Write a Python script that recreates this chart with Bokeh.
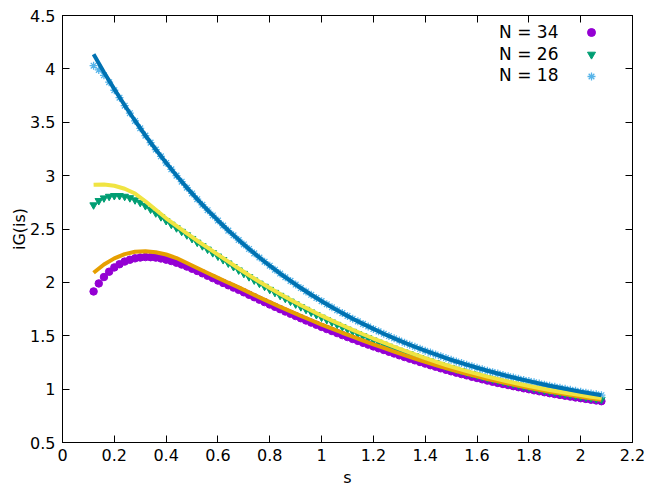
from bokeh.plotting import figure
from bokeh.models import (FixedTicker, LinearAxis, Legend, LegendItem, Label,
                          CustomJSTickFormatter)
from bokeh.embed import file_html
from bokeh.resources import INLINE

# ---------------- data ----------------
s_pts = [0.12, 0.14, 0.16, 0.18, 0.20, 0.22, 0.24, 0.26, 0.28, 0.30,
         0.32, 0.34, 0.36, 0.38, 0.40, 0.42, 0.44, 0.46, 0.48, 0.50,
         0.52, 0.54, 0.56, 0.58, 0.60, 0.62, 0.64, 0.66, 0.68, 0.70,
         0.72, 0.74, 0.76, 0.78, 0.80, 0.82, 0.84, 0.86, 0.88, 0.90,
         0.92, 0.94, 0.96, 0.98, 1.00, 1.02, 1.04, 1.06, 1.08, 1.10,
         1.12, 1.14, 1.16, 1.18, 1.20, 1.22, 1.24, 1.26, 1.28, 1.30,
         1.32, 1.34, 1.36, 1.38, 1.40, 1.42, 1.44, 1.46, 1.48, 1.50,
         1.52, 1.54, 1.56, 1.58, 1.60, 1.62, 1.64, 1.66, 1.68, 1.70,
         1.72, 1.74, 1.76, 1.78, 1.80, 1.82, 1.84, 1.86, 1.88, 1.90,
         1.92, 1.94, 1.96, 1.98, 2.00, 2.02, 2.04, 2.06, 2.08]

n34_pts = [1.915, 1.990, 2.050, 2.100, 2.140, 2.170, 2.195, 2.212, 2.225, 2.233,
           2.237, 2.236, 2.232, 2.224, 2.213, 2.200, 2.184, 2.167, 2.148, 2.128,
           2.107, 2.085, 2.062, 2.040, 2.017, 1.995, 1.973, 1.951, 1.930, 1.907,
           1.884, 1.861, 1.838, 1.815, 1.793, 1.771, 1.749, 1.727, 1.706, 1.685,
           1.664, 1.643, 1.623, 1.603, 1.583, 1.563, 1.544, 1.525, 1.506, 1.488,
           1.470, 1.452, 1.434, 1.417, 1.400, 1.383, 1.367, 1.350, 1.334, 1.317,
           1.301, 1.285, 1.270, 1.254, 1.239, 1.224, 1.210, 1.195, 1.181, 1.167,
           1.154, 1.141, 1.129, 1.116, 1.104, 1.092, 1.080, 1.069, 1.058, 1.048,
           1.038, 1.028, 1.018, 1.008, 0.999, 0.989, 0.980, 0.971, 0.962, 0.954,
           0.946, 0.938, 0.930, 0.922, 0.915, 0.908, 0.901, 0.894, 0.887]

n26_pts = [2.725, 2.765, 2.790, 2.805, 2.812, 2.812, 2.805, 2.792, 2.772, 2.748,
           2.718, 2.685, 2.650, 2.614, 2.578, 2.543, 2.510, 2.477, 2.444, 2.410,
           2.375, 2.342, 2.310, 2.277, 2.245, 2.212, 2.180, 2.147, 2.115, 2.083,
           2.052, 2.021, 1.991, 1.962, 1.933, 1.905, 1.877, 1.850, 1.823, 1.797,
           1.771, 1.746, 1.721, 1.697, 1.673, 1.650, 1.627, 1.605, 1.583, 1.561,
           1.540, 1.519, 1.499, 1.479, 1.459, 1.439, 1.420, 1.401, 1.382, 1.363,
           1.346, 1.329, 1.312, 1.295, 1.278, 1.262, 1.246, 1.230, 1.214, 1.199,
           1.185, 1.171, 1.157, 1.144, 1.131, 1.118, 1.105, 1.093, 1.082, 1.070,
           1.059, 1.048, 1.038, 1.028, 1.018, 1.008, 0.999, 0.989, 0.980, 0.972,
           0.964, 0.955, 0.947, 0.939, 0.932, 0.924, 0.917, 0.910, 0.904]

n18_pts = [4.030, 3.990, 3.940, 3.875, 3.800, 3.730, 3.655, 3.585, 3.512, 3.443,
           3.375, 3.309, 3.244, 3.181, 3.119, 3.059, 3.000, 2.943, 2.887, 2.833,
           2.779, 2.727, 2.676, 2.627, 2.579, 2.532, 2.485, 2.441, 2.397, 2.355,
           2.313, 2.272, 2.233, 2.194, 2.156, 2.119, 2.083, 2.048, 2.014, 1.980,
           1.947, 1.915, 1.884, 1.854, 1.824, 1.795, 1.767, 1.739, 1.712, 1.686,
           1.660, 1.635, 1.611, 1.587, 1.564, 1.541, 1.519, 1.497, 1.476, 1.455,
           1.435, 1.416, 1.397, 1.378, 1.360, 1.342, 1.325, 1.308, 1.291, 1.275,
           1.259, 1.244, 1.229, 1.214, 1.200, 1.186, 1.172, 1.159, 1.146, 1.133,
           1.121, 1.109, 1.097, 1.086, 1.075, 1.064, 1.053, 1.042, 1.032, 1.022,
           1.013, 1.003, 0.994, 0.985, 0.976, 0.967, 0.959, 0.951, 0.943]

s_fit = [0.12, 0.16, 0.20, 0.24, 0.28, 0.32, 0.36, 0.40, 0.44, 0.48,
         0.52, 0.56, 0.60, 0.64, 0.68, 0.72, 0.76, 0.80, 0.84, 0.88,
         0.92, 0.96, 1.00, 1.04, 1.08, 1.12, 1.16, 1.20, 1.24, 1.28,
         1.32, 1.36, 1.40, 1.44, 1.48, 1.52, 1.56, 1.60, 1.64, 1.68,
         1.72, 1.76, 1.80, 1.84, 1.88, 1.92, 1.96, 2.00, 2.04, 2.08]

fit34 = [2.090, 2.168, 2.225, 2.265, 2.287, 2.292, 2.282, 2.261, 2.228, 2.182,
         2.135, 2.088, 2.042, 1.997, 1.953, 1.906, 1.860, 1.815, 1.771, 1.728,
         1.686, 1.645, 1.605, 1.566, 1.528, 1.491, 1.455, 1.420, 1.386, 1.352,
         1.319, 1.287, 1.256, 1.226, 1.197, 1.170, 1.144, 1.119, 1.095, 1.073,
         1.052, 1.032, 1.013, 0.994, 0.976, 0.960, 0.944, 0.929, 0.915, 0.901]

fit26 = [2.914, 2.917, 2.905, 2.877, 2.832, 2.760, 2.680, 2.600, 2.530, 2.460,
         2.390, 2.325, 2.260, 2.195, 2.130, 2.067, 2.006, 1.948, 1.892, 1.838,
         1.786, 1.736, 1.688, 1.642, 1.598, 1.555, 1.514, 1.474, 1.435, 1.397,
         1.360, 1.325, 1.290, 1.258, 1.226, 1.197, 1.169, 1.143, 1.117, 1.094,
         1.071, 1.050, 1.030, 1.011, 0.992, 0.976, 0.959, 0.944, 0.929, 0.916]

fit18 = [4.136, 3.969, 3.810, 3.659, 3.514, 3.376, 3.245, 3.120, 3.001, 2.888,
         2.780, 2.677, 2.580, 2.486, 2.398, 2.313, 2.233, 2.156, 2.083, 2.014,
         1.947, 1.884, 1.824, 1.767, 1.712, 1.660, 1.611, 1.564, 1.519, 1.476,
         1.435, 1.397, 1.360, 1.325, 1.291, 1.259, 1.229, 1.200, 1.172, 1.146,
         1.121, 1.097, 1.075, 1.053, 1.032, 1.013, 0.994, 0.976, 0.959, 0.943]

series_names = ["N = 34", "N = 26", "N = 18"]

x_ticks = [0, 0.2, 0.4, 0.6, 0.8, 1.0, 1.2, 1.4, 1.6, 1.8, 2.0, 2.2]
x_tick_labels = ["0", "0.2", "0.4", "0.6", "0.8", "1", "1.2", "1.4", "1.6", "1.8", "2", "2.2"]
y_ticks = [0.5, 1.0, 1.5, 2.0, 2.5, 3.0, 3.5, 4.0, 4.5]
y_tick_labels = ["0.5", "1", "1.5", "2", "2.5", "3", "3.5", "4", "4.5"]

x_title = "s"
y_title = "iG(is)"

# ---------------- style ----------------
FONT = "DejaVu Sans"
FS = "16px"
C_PURPLE = "#9400d3"
C_GREEN = "#009e73"
C_LBLUE = "#56b4e9"
C_ORANGE = "#e69f00"
C_YELLOW = "#f0e442"
C_BLUE = "#0072b2"

FRAME_H = 427

p = figure(width=654, height=491, x_range=(0, 2.2), y_range=(0.5, 4.5),
           output_backend="svg", toolbar_location=None,
           min_border_left=62, min_border_right=22,
           min_border_top=15, min_border_bottom=49)
p.xgrid.visible = False
p.ygrid.visible = False
p.outline_line_color = "black"
p.outline_line_width = 1
p.outline_line_alpha = 1
p.background_fill_color = "white"
p.border_fill_color = "white"

fmt = CustomJSTickFormatter(code="return String(parseFloat(tick.toFixed(2)));")
blank_fmt = CustomJSTickFormatter(code="return '';")


def style_axis(ax, ticks, labels, show_labels=True):
    ax.ticker = FixedTicker(ticks=ticks)
    ax.major_tick_in = 7
    ax.major_tick_out = 0
    ax.minor_tick_in = 0
    ax.minor_tick_out = 0
    ax.axis_line_color = "black"
    ax.major_tick_line_color = "black"
    ax.major_label_text_font = FONT
    ax.major_label_text_color = "black"
    ax.major_label_text_font_size = FS
    ax.axis_label_text_font = FONT
    ax.axis_label_text_font_size = FS
    ax.axis_label_text_font_style = "normal"
    ax.axis_label_text_color = "black"
    if show_labels:
        ax.major_label_overrides = {t: l for t, l in zip(ticks, labels)}
        ax.formatter = fmt
    else:
        ax.formatter = blank_fmt
        ax.major_label_standoff = 0


style_axis(p.xaxis[0], x_ticks, x_tick_labels)
p.xaxis[0].major_label_standoff = 6
p.xaxis[0].axis_label = x_title
p.xaxis[0].axis_label_standoff = 4
style_axis(p.yaxis[0], y_ticks, y_tick_labels)
p.yaxis[0].major_label_standoff = 7
p.yaxis[0].axis_label = y_title
p.yaxis[0].axis_label_standoff = -2

top_ax = LinearAxis()
style_axis(top_ax, x_ticks, x_tick_labels, show_labels=False)
p.add_layout(top_ax, "above")
right_ax = LinearAxis()
style_axis(right_ax, y_ticks, y_tick_labels, show_labels=False)
p.add_layout(right_ax, "right")

# points
r34 = p.scatter(s_pts, n34_pts, marker="circle", size=7.5,
                fill_color=C_PURPLE, line_color=C_PURPLE)
r26 = p.scatter(s_pts, n26_pts, marker="inverted_triangle", size=7.5,
                fill_color=C_GREEN, line_color=C_GREEN)
r18 = p.scatter(s_pts, n18_pts, marker="asterisk", size=8,
                line_color=C_LBLUE, line_width=1.3)

# fit lines
p.line(s_fit, fit34, line_color=C_ORANGE, line_width=4)
p.line(s_fit, fit26, line_color=C_YELLOW, line_width=4)
p.line(s_fit, fit18, line_color=C_BLUE, line_width=4)

# legend: markers via Legend, text via Labels (text left of marker as in gnuplot)
ROW_H = 22
legend = Legend(items=[LegendItem(label=" ", renderers=[r]) for r in (r34, r26, r18)],
                location=(519, FRAME_H - 5.5 - 3 * ROW_H), padding=0, spacing=0, margin=0,
                glyph_width=20, glyph_height=ROW_H, label_height=ROW_H, label_width=0,
                label_standoff=0, label_text_font_size="2px",
                border_line_color=None, background_fill_alpha=0)
p.add_layout(legend, "center")

row_y = [FRAME_H - 16.5, FRAME_H - 38.2, FRAME_H - 59.9]
for name, yy in zip(series_names, row_y):
    p.add_layout(Label(x=496, y=yy, x_units="screen", y_units="screen", text=name,
                       text_align="right", text_baseline="middle",
                       text_font=FONT, text_font_size="17px", text_color="black"))

open("out.html", "w").write(file_html(p, INLINE))
